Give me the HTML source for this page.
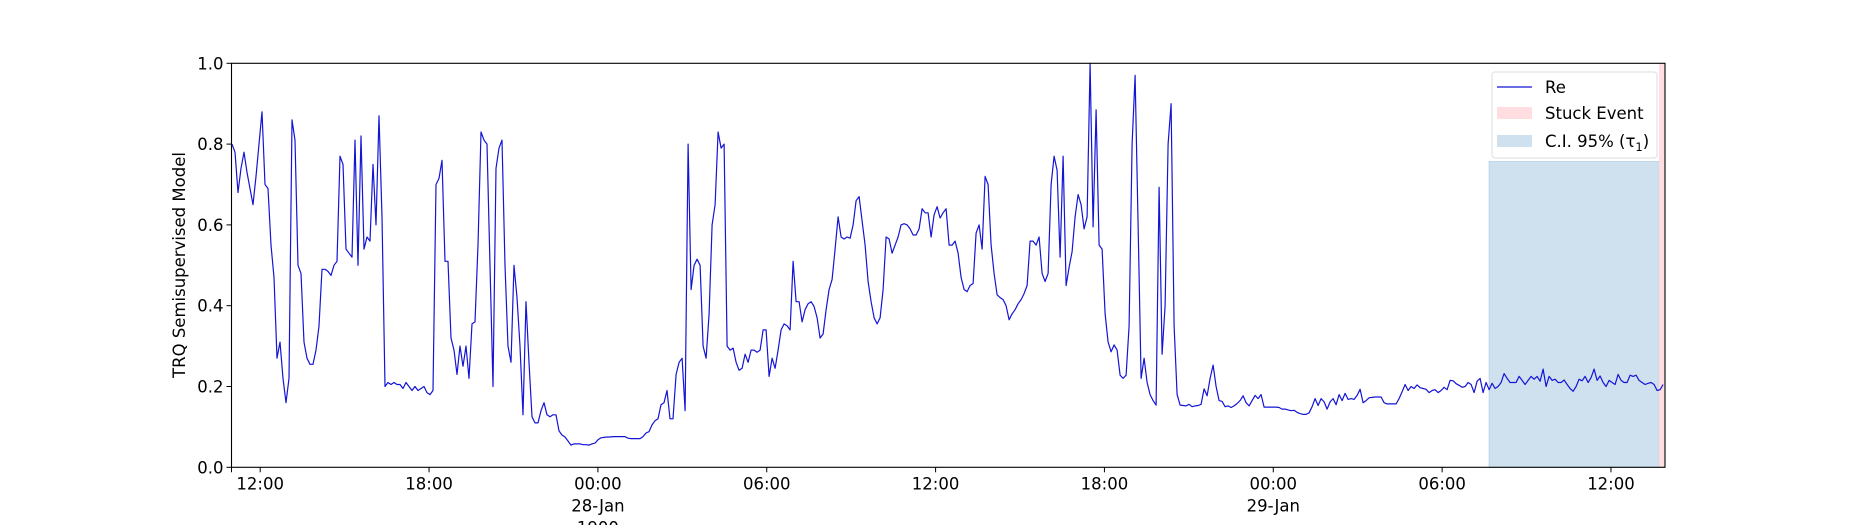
<!DOCTYPE html>
<html><head><meta charset="utf-8"><style>
body{margin:0;background:#fff;}
svg text{font-family:"DejaVu Sans","Liberation Sans",sans-serif;fill:#000;}
</style></head><body>
<svg id="chart" width="1850" height="525" xmlns="http://www.w3.org/2000/svg">
<rect width="1850" height="525" fill="#fff"/>
<g id="bands"></g><g id="series"></g><g id="axes"></g>
<text transform="translate(185,265) rotate(-90)" text-anchor="middle" font-size="16.5">TRQ Semisupervised Model</text>
<g>
<rect x="1492" y="72" width="165" height="86" rx="3" fill="#fff" fill-opacity="0.8" stroke="#ddd"/>
<line x1="1497" y1="87" x2="1532" y2="87" stroke="#1414d6" stroke-width="1.3"/>
<text x="1545" y="93" font-size="16.5">Re</text>
<rect x="1497" y="107" width="35" height="12" fill="#ffdde0"/>
<text x="1545" y="119" font-size="16.5">Stuck Event</text>
<rect x="1497" y="135" width="35" height="12" fill="#cfe1ee"/>
<text x="1545" y="147" font-size="16.5">C.I. 95% (τ<tspan font-size="11.5" dy="4">1</tspan><tspan dy="-4">)</tspan></text>
</g>
</svg>
<script>
const startHour = 10.998;
const stepMinutes = 6.397;
const valuesDay1 = [0.80,0.78,0.68,0.74,0.78,0.73,0.69,0.65,0.72,0.80,0.88,0.70,0.69,0.55,0.47,0.27,0.31,0.22,0.16,0.22,0.86,0.81,0.50,0.48,0.31,0.27,0.255,0.255,0.29,0.35,0.49,0.49,0.485,0.475,0.50,0.51,0.77,0.75,0.54,0.53,0.52,0.81,0.50,0.82,0.54,0.57,0.56,0.75,0.60,0.87,0.62,0.20,0.21,0.205,0.21,0.205,0.205,0.195,0.21,0.20,0.19,0.20,0.19,0.195,0.20,0.185,0.18,0.19,0.70,0.715,0.76,0.51,0.51,0.32,0.29,0.23,0.30,0.25,0.30,0.22,0.355,0.36,0.55,0.83,0.81,0.80,0.50,0.20,0.74,0.79,0.81,0.50,0.30,0.26,0.50,0.42,0.30,0.13,0.41,0.26,0.125,0.11,0.11,0.14,0.16,0.13,0.125,0.13,0.13,0.09,0.08,0.075,0.065,0.055,0.058,0.058,0.058,0.056,0.056,0.055,0.058,0.06,0.068,0.073,0.074,0.075,0.075,0.076,0.076,0.076,0.076,0.076,0.072,0.071,0.071,0.071,0.071,0.076,0.085,0.088,0.105,0.115,0.12,0.155,0.16,0.19,0.12,0.12,0.23,0.26,0.27,0.14,0.80,0.44,0.50,0.515,0.50,0.30,0.27,0.38];
const valuesDay2 = [0.60,0.65,0.83,0.79,0.80,0.30,0.29,0.295,0.26,0.24,0.245,0.28,0.26,0.29,0.29,0.285,0.29,0.34,0.34,0.225,0.27,0.245,0.29,0.34,0.355,0.35,0.34,0.51,0.41,0.41,0.36,0.39,0.405,0.41,0.398,0.37,0.32,0.33,0.39,0.44,0.465,0.54,0.62,0.57,0.565,0.57,0.567,0.60,0.66,0.67,0.61,0.55,0.46,0.41,0.37,0.355,0.37,0.44,0.57,0.565,0.53,0.55,0.57,0.60,0.603,0.60,0.59,0.575,0.575,0.59,0.64,0.63,0.63,0.57,0.625,0.645,0.617,0.63,0.64,0.55,0.55,0.56,0.53,0.47,0.44,0.435,0.45,0.455,0.58,0.60,0.54,0.72,0.70,0.55,0.48,0.427,0.42,0.415,0.40,0.365,0.38,0.39,0.405,0.415,0.43,0.45,0.56,0.56,0.55,0.57,0.48,0.46,0.48,0.70,0.77,0.735,0.52,0.77,0.45,0.495,0.534,0.62,0.675,0.65,0.59,0.62,1.0,0.595,0.885,0.55,0.54,0.38,0.31,0.286,0.303,0.29,0.228,0.22,0.228,0.35,0.80,0.97,0.60,0.22,0.27,0.21,0.18,0.165,0.154,0.693,0.28,0.40,0.80,0.90,0.35,0.18];
const valuesDay3 = [0.154,0.153,0.152,0.156,0.15,0.152,0.153,0.156,0.194,0.177,0.22,0.253,0.20,0.165,0.163,0.15,0.152,0.148,0.152,0.158,0.165,0.177,0.16,0.152,0.165,0.178,0.17,0.18,0.149,0.149,0.149,0.149,0.149,0.148,0.144,0.144,0.142,0.14,0.141,0.136,0.133,0.131,0.131,0.135,0.15,0.17,0.153,0.17,0.162,0.144,0.162,0.17,0.155,0.18,0.165,0.183,0.168,0.17,0.168,0.178,0.193,0.16,0.165,0.172,0.173,0.174,0.174,0.174,0.16,0.157,0.157,0.157,0.157,0.17,0.187,0.205,0.19,0.20,0.195,0.204,0.197,0.195,0.193,0.185,0.19,0.192,0.185,0.19,0.198,0.192,0.215,0.214,0.207,0.203,0.198,0.20,0.21,0.205,0.185,0.213,0.22,0.185,0.21,0.192,0.208,0.195,0.20,0.21,0.232,0.22,0.21,0.21,0.21,0.225,0.215,0.205,0.215,0.225,0.218,0.225,0.213,0.243,0.20,0.225,0.215,0.218,0.21,0.21,0.216,0.205,0.195,0.188,0.20,0.218,0.214,0.225,0.21,0.222,0.243,0.215,0.226,0.21,0.20,0.215,0.21,0.205,0.23,0.215,0.21,0.21,0.228,0.225,0.228,0.215,0.21,0.205,0.208,0.21,0.205,0.19,0.192,0.205];
const values = valuesDay1.concat(valuesDay2, valuesDay3);
const tickHours = [12,18,24,30,36,42,48,54,60];
const tickLabels = ["12:00","18:00","00:00","06:00","12:00","18:00","00:00","06:00","12:00"];
const tickSubLabels = ["","","28-Jan","","","","29-Jan","",""];
const yTicks = [0.0,0.2,0.4,0.6,0.8,1.0];
const ciStartHour = 55.67, ciEndHour = 61.71, ciUpper = 0.757;
const stuckStartHour = 61.71;
const xMinHour = 10.98, xMaxHour = 61.92;

const L=231.5,R=1665,T=63.3,B=467.3;
const NS='http://www.w3.org/2000/svg';
const X=h=>L+(h-xMinHour)/(xMaxHour-xMinHour)*(R-L);
const Y=v=>B-v*(B-T);
function mk(tag,attrs,parent){const e=document.createElementNS(NS,tag);for(const k in attrs)e.setAttribute(k,attrs[k]);parent.appendChild(e);return e;}
const bands=document.getElementById('bands'),series=document.getElementById('series'),axes=document.getElementById('axes');
const ci=mk('rect',{x:X(ciStartHour),y:Y(ciUpper),width:X(ciEndHour)-X(ciStartHour),height:Y(0)-Y(ciUpper),fill:'#cfe1ee',stroke:'#b7d0e2','stroke-width':0.8},bands);


const st=mk('rect',{x:X(stuckStartHour),y:T,width:R-X(stuckStartHour),height:B-T,fill:'#ffdde0'},bands);


let d='';
values.forEach((v,i)=>{const h=startHour+i*stepMinutes/60;d+=(i?'L':'M')+X(h).toFixed(1)+' '+Y(v).toFixed(1);});
const ln=mk('path',{d:d,fill:'none',stroke:'#1414d6','stroke-width':1.2,'stroke-linejoin':'round'},series);


const fr=mk('rect',{x:L,y:T,width:R-L,height:B-T,fill:'none',stroke:'#000','stroke-width':1.1},axes);


yTicks.forEach(v=>{
  mk('line',{x1:L-5,x2:L,y1:Y(v),y2:Y(v),stroke:'#000','stroke-width':1},axes);
  const t=mk('text',{x:L-8,y:Y(v)+6,'text-anchor':'end','font-size':16.5},axes);t.textContent=v.toFixed(1);
  
  
});
tickHours.forEach((h,i)=>{
  mk('line',{x1:X(h),x2:X(h),y1:B,y2:B+5,stroke:'#000','stroke-width':1},axes);
  const t=mk('text',{x:X(h),y:B+22,'text-anchor':'middle','font-size':16.5},axes);t.textContent=tickLabels[i];
  
  
  if(tickSubLabels[i]){const s=mk('text',{x:X(h),y:B+44,'text-anchor':'middle','font-size':16.5},axes);s.textContent=tickSubLabels[i];
  
  }
});
mk('line',{x1:L,x2:L,y1:B,y2:B+5,stroke:'#000','stroke-width':1},axes);
const yr=mk('text',{x:X(24),y:B+66,'text-anchor':'middle','font-size':16.5},axes);yr.textContent='1900';


</script>
</body></html>
